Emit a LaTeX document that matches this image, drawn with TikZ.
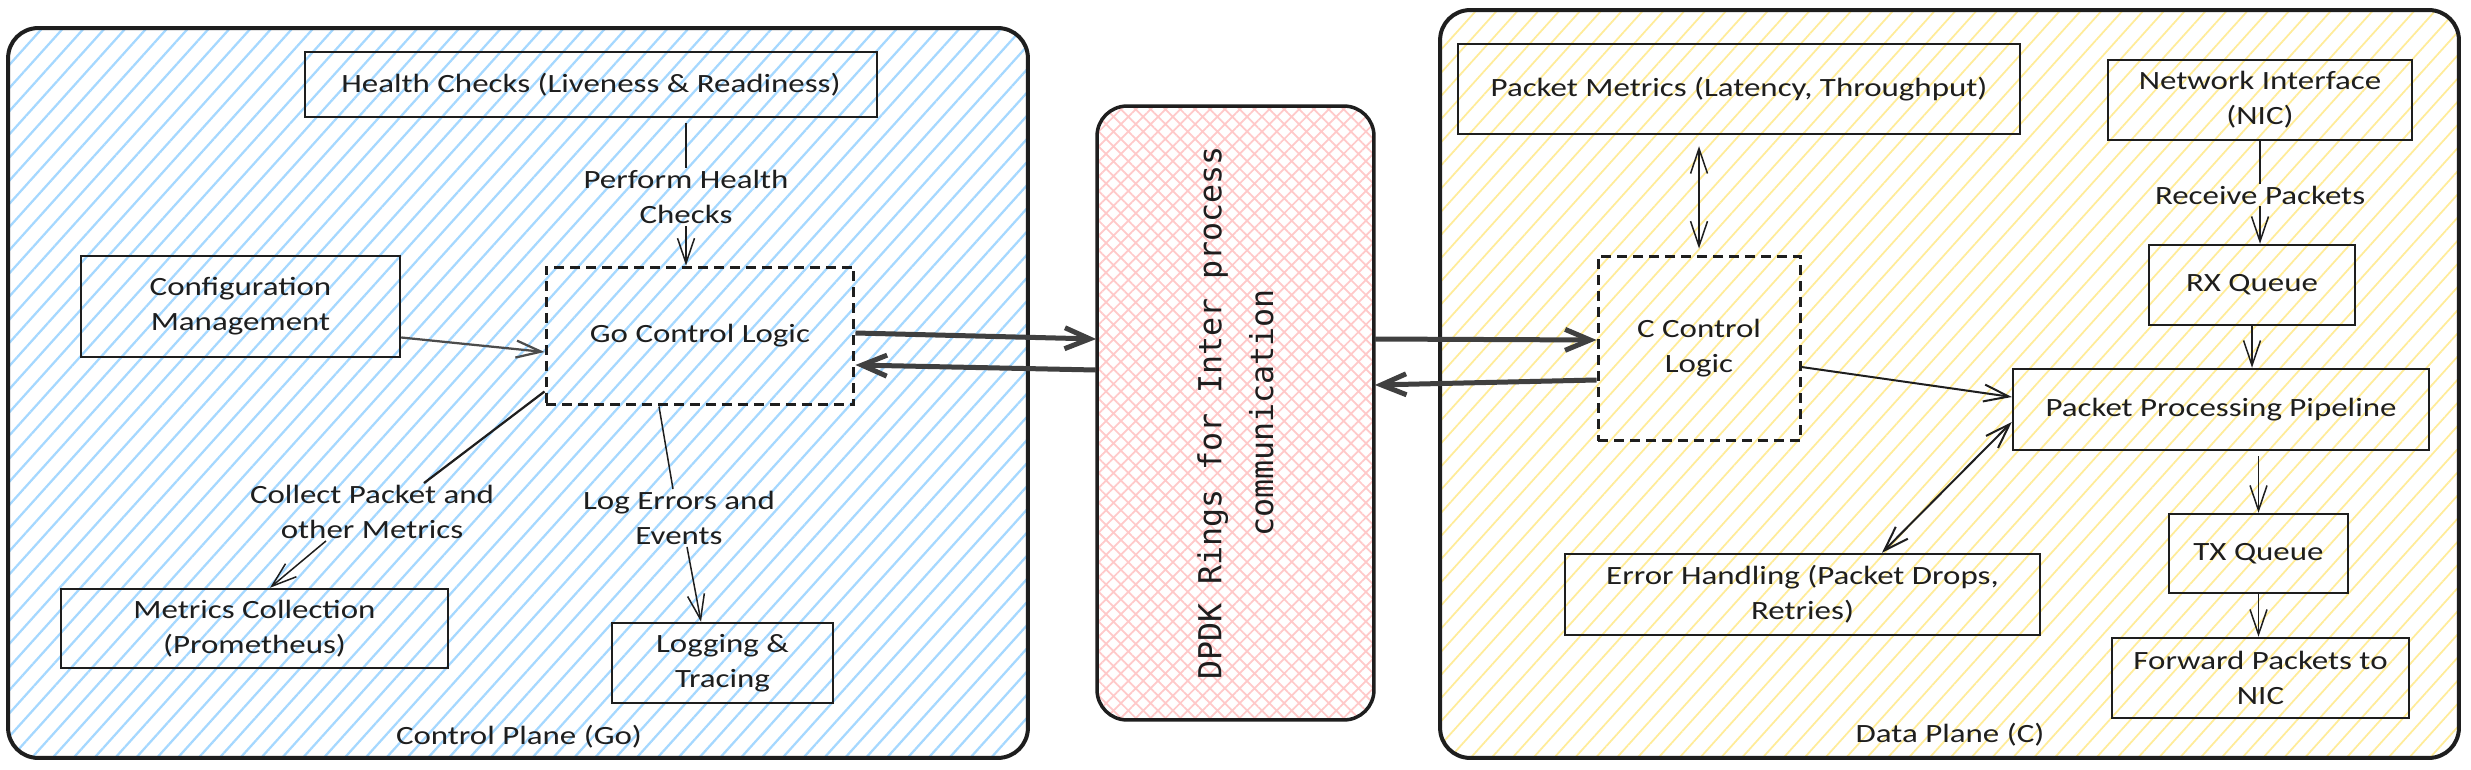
\documentclass[tikz,border=0pt]{standalone}
\usepackage{fontspec}
\setmainfont{Carlito}[FakeStretch=1.25]
\newfontfamily\ringfont{DejaVu Sans Mono}
\usepackage{xcolor}
\usetikzlibrary{arrows.meta,patterns.meta,positioning}

\definecolor{ink}{HTML}{1E1E1E}
\definecolor{cpblue}{HTML}{A5D8FF}
\definecolor{dpyellow}{HTML}{FFEC99}
\definecolor{ringpink}{HTML}{FFC9C9}

\begin{document}
\begin{tikzpicture}[x=0.02cm,y=-0.02cm,
  every node/.style={font=\fontsize{15}{20}\selectfont, text=ink},
  plane/.style={draw=ink, line width=0.08cm, rounded corners=0.6cm, inner sep=0pt},
  box/.style={draw=ink, line width=0.05cm, inner sep=0pt, align=center},
  logic/.style={box, line width=0.06cm, dash pattern=on 0.2cm off 0.12cm},
  lbl/.style={align=center, inner sep=1pt},
  link/.style={draw=ink, line width=0.03cm},
  arr/.style={link, -{Straight Barb[length=0.5cm,width=0.34cm]}},
  biarr/.style={link, {Straight Barb[length=0.5cm,width=0.34cm]}-{Straight Barb[length=0.5cm,width=0.34cm]}},
  ring/.style={draw=black!75, line width=0.1cm, -{Straight Barb[length=0.5cm,width=0.42cm]}}
]
  \path[use as bounding box, fill=white] (0,0) rectangle (2471,770);

  \node[plane, pattern={Lines[angle=48,distance=0.31cm,line width=0.045cm]}, pattern color=cpblue,
        minimum width=20.4cm, minimum height=14.6cm] (cp) at (518,393) {};
  \node[plane, pattern={Lines[angle=48,distance=0.31cm,line width=0.035cm]}, pattern color=dpyellow,
        minimum width=20.38cm, minimum height=14.96cm] (dp) at (1949.5,384) {};
  \node[plane, line width=0.07cm, pattern={Hatch[angle=45,distance=0.21cm,line width=0.035cm]}, pattern color=ringpink,
        minimum width=5.54cm, minimum height=12.28cm] (dpdk) at (1235.5,413) {};
  \node[rotate=90, align=center, font=\ringfont\fontsize{18}{29.5}\selectfont] (ringtxt) at (dpdk)
        {DPDK Rings for Inter process\\communication};

  \node[box, minimum width=11.44cm, minimum height=1.3cm] (health) at (591,84.5) {Health Checks (Liveness \& Readiness)};
  \node[box, minimum width=6.38cm, minimum height=2.02cm] (config) at (240.5,306.5) {Configuration\\Management};
  \node[logic, minimum width=6.16cm, minimum height=2.76cm] (goctl) at (700,336) {Go Control Logic};
  \node[box, minimum width=7.74cm, minimum height=1.58cm] (metrics) at (254.5,628.5) {Metrics Collection\\(Prometheus)};
  \node[box, minimum width=4.42cm, minimum height=1.6cm] (logging) at (722.5,663) {Logging \&\\Tracing};

  \node[box, minimum width=11.24cm, minimum height=1.8cm] (pktm) at (1739,89) {Packet Metrics (Latency, Throughput)};
  \node[box, minimum width=6.08cm, minimum height=1.6cm] (nic) at (2260,100) {Network Interface\\(NIC)};
  \node[logic, minimum width=4.04cm, minimum height=3.7cm] (cctl) at (1699,348.5) {C Control\\Logic};
  \node[box, minimum width=4.12cm, minimum height=1.6cm] (rx) at (2252,285) {RX Queue};
  \node[box, minimum width=8.32cm, minimum height=1.62cm] (pipe) at (2221,409.5) {Packet Processing Pipeline};
  \node[box, minimum width=9.5cm, minimum height=1.62cm] (err) at (1802.5,594.5) {Error Handling (Packet Drops,\\Retries)};
  \node[box, minimum width=3.58cm, minimum height=1.58cm] (tx) at (2258.5,553.5) {TX Queue};
  \node[box, minimum width=5.94cm, minimum height=1.6cm] (fwd) at (2260.5,678) {Forward Packets to\\NIC};

  \node[lbl] (perf) at (686,197) {Perform Health\\Checks};
  \node[lbl] (collect) at (372,512) {Collect Packet and\\other Metrics};
  \node[lbl] (logerr) at (679,518) {Log Errors and\\Events};
  \node[lbl] (recv) at (2260,195) {Receive Packets};
  \node (cptitle) at (519,737) {Control Plane (Go)};
  \node (dptitle) at (1950,735) {Data Plane (C)};

  \draw[link, shorten <=0.1cm] (perf.north |- health.south) -- (perf.north);
  \draw[arr] (perf.south) -- (perf.south |- goctl.north);
  \draw[arr, line width=0.045cm, draw=black!70] ([yshift=-0.62cm]config.east) -- ([yshift=-0.32cm]goctl.west);
  \draw[link, line width=0.045cm] ([yshift=0.3cm]goctl.south west) -- ([xshift=1.04cm]collect.north);
  \draw[arr] ([xshift=-0.92cm]collect.south) -- ([xshift=0.31cm]metrics.north);
  \draw[link] ([xshift=-0.82cm]goctl.south) -- ([xshift=-0.12cm]logerr.north);
  \draw[arr] ([xshift=0.16cm]logerr.south) -- ([xshift=-0.43cm]logging.north);

  \draw[ring] ([yshift=0.06cm]goctl.east) -- ([yshift=1.48cm]dpdk.west);
  \draw[ring] ([yshift=0.86cm]dpdk.west) -- ([yshift=-0.58cm]goctl.east);
  \draw[ring] ([yshift=1.48cm]dpdk.east) -- ([yshift=0.17cm]cctl.west);
  \draw[ring] ([yshift=-0.63cm]cctl.west) -- ([yshift=0.56cm]dpdk.east);

  \draw[biarr, shorten <=0.22cm, shorten >=0.12cm] (cctl.north |- pktm.south) -- (cctl.north);
  \draw[link] (nic.south) -- (recv.north);
  \draw[arr] (recv.south) -- (recv.south |- rx.north);
  \draw[arr] (rx.south) -- (rx.south |- pipe.north);
  \draw[arr, line width=0.04cm] ([yshift=-0.37cm]cctl.east) -- ([yshift=0.25cm]pipe.west);
  \draw[biarr, line width=0.04cm] ([yshift=-0.25cm]pipe.west) -- ([xshift=1.59cm]err.north);
  \draw[arr, shorten <=0.1cm] (tx.north |- pipe.south) -- (tx.north);
  \draw[arr] (tx.south) -- (tx.south |- fwd.north);
\end{tikzpicture}
\end{document}
